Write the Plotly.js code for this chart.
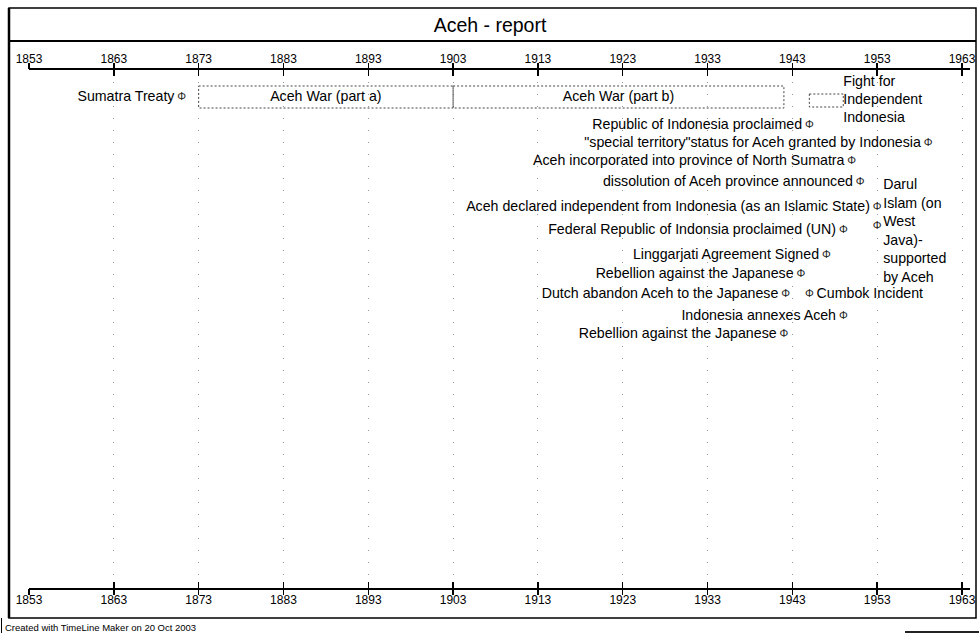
<!DOCTYPE html>
<html>
<head>
<meta charset="utf-8">
<script src="https://cdn.plot.ly/plotly-3.0.1.min.js"></script>
<style>
html,body{margin:0;padding:0;background:#fff;}
#chart{width:979px;height:633px;}
</style>
</head>
<body>
<div id="chart"></div>
<script>
// ---------------- data ----------------
const tickYears = [1853,1863,1873,1883,1893,1903,1913,1923,1933,1943,1953,1963];
const tickLabels = tickYears.map(String);

// point events (year of event, lane, label side)
const eventLabels = [
  'Sumatra Treaty',
  'Republic of Indonesia proclaimed',
  '"special territory"status for Aceh granted by Indonesia',
  'Aceh incorporated into province of North Sumatra',
  'dissolution of Aceh province announced',
  'Aceh declared independent from Indonesia (as an Islamic State)',
  'Federal Republic of Indonsia proclaimed (UN)',
  'Linggarjati Agreement Signed',
  'Rebellion against the Japanese',
  'Dutch abandon Aceh to the Japanese',
  'Cumbok Incident',
  'Indonesia annexes Aceh',
  'Rebellion against the Japanese'
];
const eventYears = [1871,1945,1959,1950,1951,1953,1949,1947,1944,1942.2,1945,1949,1942];
const eventLanes = [97,125,143,161,182,207,230,255,274,294,294,316,334];
const eventSide  = ['left','left','left','left','left','left','left','left','left','left','right','left','left'];

// note with multi-line label
const noteLabel = 'Darul<br>Islam (on<br>West<br>Java)-<br>supported<br>by Aceh';
const noteYear = 1953;
const noteIconLane = 226;
const noteTextLane = 232;

// span events
const spanLabels = ['Aceh War (part a)','Aceh War (part b)','Fight for<br>Independent<br>Indonesia'];
const spanStart  = [1873,1903,1945];
const spanEnd    = [1903,1942,1949];
const spanLanes  = [97,97,100.5];
const spanLabelPos = ['inside','inside','right'];

// ---------------- style / layout helpers ----------------
const FONT = '"Liberation Sans", Arial, Helvetica, sans-serif';
const LABEL_SIZE = 14.2;
const spanHalfHeight = [11,11,6.5];
const W = 979, H = 633;
const M = {l:29, r:9, t:70, b:45};
const plotW = W - M.l - M.r, plotH = H - M.t - M.b;
const px = v => (v - M.l) / plotW;           // pixel x -> paper x
const py = v => (H - M.b - v) / plotH;       // pixel y -> paper y
const yearPerPx = 10 / 84.82;
const xRange = [1853, 1853 + plotW * yearPerPx];

const traces = [];

// span boxes
spanLabels.forEach((lab, i) => {
  const s = spanStart[i], e = spanEnd[i], r = spanLanes[i], h = spanHalfHeight[i];
  traces.push({
    type:'scatter', mode:'lines',
    x:[s,e,e,s,s], y:[r-h,r-h,r+h,r+h,r-h],
    line:{color:'#444', width:1, dash:'2px,2px'},
    hoverinfo:'skip', showlegend:false, cliponaxis:false
  });
});
// span labels inside
const inIdx = spanLabels.map((_,i)=>i).filter(i=>spanLabelPos[i]==='inside');
traces.push({
  type:'scatter', mode:'text',
  x: inIdx.map(i => (spanStart[i]+spanEnd[i])/2),
  y: inIdx.map(i => spanLanes[i]),
  text: inIdx.map(i => spanLabels[i]),
  textposition:'middle center',
  textfont:{family:FONT, size:LABEL_SIZE, color:'#000'},
  hoverinfo:'skip', showlegend:false, cliponaxis:false
});
const outIdx = spanLabels.map((_,i)=>i).filter(i=>spanLabelPos[i]==='right');
traces.push({
  type:'scatter', mode:'text',
  x: outIdx.map(i => spanEnd[i]),
  y: outIdx.map(i => spanLanes[i]),
  text: outIdx.map(i => spanLabels[i]),
  textposition:'middle right',
  textfont:{family:FONT, size:LABEL_SIZE, color:'#000'},
  hoverinfo:'skip', showlegend:false, cliponaxis:false
});

// event labels
['left','right'].forEach(side => {
  const idx = eventLabels.map((_,i)=>i).filter(i=>eventSide[i]===side);
  traces.push({
    type:'scatter', mode:'markers+text',
    x: idx.map(i=>eventYears[i]), y: idx.map(i=>eventLanes[i]),
    text: idx.map(i=>eventLabels[i]),
    textposition: side==='left' ? 'middle left' : 'middle right',
    marker:{size:10, opacity:0},
    textfont:{family:FONT, size:LABEL_SIZE, color:'#000'},
    hoverinfo:'skip', showlegend:false, cliponaxis:false
  });
});
// note label
traces.push({
  type:'scatter', mode:'markers+text',
  x:[noteYear], y:[noteTextLane], text:[noteLabel],
  textposition:'middle right',
  marker:{size:8, opacity:0},
  textfont:{family:FONT, size:LABEL_SIZE, color:'#000'},
  hoverinfo:'skip', showlegend:false, cliponaxis:false
});
// event icons
traces.push({
  type:'scatter', mode:'text',
  x: eventYears.concat([noteYear]),
  y: eventLanes.concat([noteIconLane]),
  text: eventYears.concat([noteYear]).map(()=> 'Φ'),
  textposition:'middle center',
  textfont:{family:FONT, size:11, color:'#222'},
  hoverinfo:'skip', showlegend:false, cliponaxis:false
});
// dummy traces for extra axes
['x2','x3','x4'].forEach(ax => traces.push({
  type:'scatter', mode:'lines', x:[xRange[0]], y:[null], xaxis:ax,
  hoverinfo:'skip', showlegend:false
}));

const baseAxis = {
  range: xRange, tickmode:'array', tickvals: tickYears, ticktext: tickLabels,
  ticklen:6, tickwidth:1.5, tickcolor:'#000', zeroline:false, fixedrange:true,
  tickfont:{family:FONT, size:12, color:'#000'}, showgrid:false
};

const shapeLine = {color:'#000', width:1.5};
const layout = {
  width:W, height:H,
  margin:M,
  paper_bgcolor:'#fff', plot_bgcolor:'#fff',
  showlegend:false,
  title:{text:'Aceh - report', x:490/W, xanchor:'center', y:1-25/H, yanchor:'middle',
         font:{family:FONT, size:19.5, color:'#000'}},
  // labelled axes: ticks pointing inward, labels close to the axis line
  xaxis: Object.assign({}, baseAxis, {side:'bottom', ticks:'inside', showline:true, linewidth:2, linecolor:'#000',
          showgrid:true, gridcolor:'#999', gridwidth:1, griddash:'1px,11px'}),
  xaxis2: Object.assign({}, baseAxis, {side:'top', overlaying:'x', ticks:'inside', showline:true, linewidth:2, linecolor:'#000'}),
  // outward half of the crossing ticks
  xaxis3: Object.assign({}, baseAxis, {side:'bottom', overlaying:'x', ticks:'outside', showline:false, showticklabels:false}),
  xaxis4: Object.assign({}, baseAxis, {side:'top', overlaying:'x', ticks:'outside', showline:false, showticklabels:false}),
  yaxis:{range:[H - M.b, M.t], visible:false, fixedrange:true},
  shapes:[
    {type:'rect', xref:'paper', yref:'paper', x0:px(9), x1:px(976), y0:py(618), y1:py(8), line:shapeLine, layer:'below'},
    {type:'line', xref:'paper', yref:'paper', x0:px(9), x1:px(976), y0:py(41), y1:py(41), line:{color:'#000', width:2}},
    {type:'line', xref:'paper', yref:'paper', x0:px(9), x1:px(9), y0:py(618), y1:py(8), line:{color:'#000', width:2.5}},
    {type:'line', xref:'paper', yref:'paper', x0:px(1.5), x1:px(1.5), y0:py(618), y1:py(633), line:{color:'#000', width:1}},
    {type:'line', xref:'paper', yref:'paper', x0:px(905), x1:px(979), y0:py(632), y1:py(632), line:{color:'#222', width:2}}
  ],
  annotations:[
    {xref:'paper', yref:'paper', x:px(3), y:py(627.5), xanchor:'left', yanchor:'middle', showarrow:false,
     text:'Created with TimeLine Maker on 20 Oct 2003', font:{family:FONT, size:9.5, color:'#000'}}
  ]
};

Plotly.newPlot('chart', traces, layout, {staticPlot:true, displayModeBar:false});
</script>
</body>
</html>
